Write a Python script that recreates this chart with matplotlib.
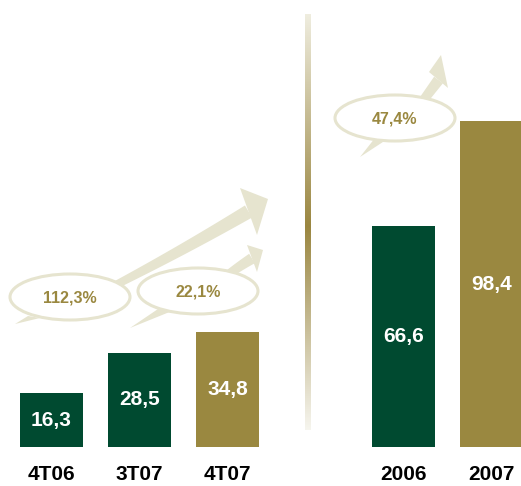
import numpy as np
import matplotlib
matplotlib.use("Agg")
import matplotlib.pyplot as plt
from matplotlib.patches import Ellipse, Polygon
from matplotlib.colors import LinearSegmentedColormap

plt.rcParams['font.family'] = ['Liberation Sans', 'DejaVu Sans']

# data
categories = ['4T06', '3T07', '4T07', '2006', '2007']
values = [16.3, 28.5, 34.8, 66.6, 98.4]
positions = [0, 1, 2, 4, 5]
growth_labels = ['112,3%', '22,1%', '47,4%']

green = '#004a30'
olive = '#9a8840'
beige = '#e6e4cf'
bar_colors = [green, green, olive, green, olive]

fig = plt.figure(figsize=(5.21, 4.86), dpi=100)

# overlay for decorations, pixel coordinates
ov = fig.add_axes([0, 0, 1, 1])
ov.set_xlim(0, 521)
ov.set_ylim(486, 0)
ov.axis('off')


def shaft(p0, p1, p2, w0, w1, n=50):
    p0, p1, p2 = np.array(p0, float), np.array(p1, float), np.array(p2, float)
    t = np.linspace(0, 1, n)[:, None]
    pts = (1 - t) ** 2 * p0 + 2 * (1 - t) * t * p1 + t ** 2 * p2
    d = 2 * (1 - t) * (p1 - p0) + 2 * t * (p2 - p1)
    nrm = np.column_stack([-d[:, 1], d[:, 0]]) / np.linalg.norm(d, axis=1)[:, None]
    w = (w0 + (w1 - w0) * t) / 2
    return np.vstack([pts + nrm * w, (pts - nrm * w)[::-1]])


# growth arrows
arrows = [
    dict(p0=(98, 294), p1=(175, 255), c1=(240, 188), tip=(268, 199), c2=(257, 235), w=(7, 14)),
    dict(p0=(205, 292), p1=(230, 272), c1=(247, 245), tip=(263, 250), c2=(257, 272), w=(6, 11)),
    dict(p0=(405, 125), p1=(422, 102), c1=(429, 72), tip=(441, 55), c2=(448, 88), w=(7, 11)),
]
for a in arrows:
    mid = ((a['c1'][0] + a['c2'][0]) / 2, (a['c1'][1] + a['c2'][1]) / 2)
    ov.add_patch(Polygon(shaft(a['p0'], a['p1'], mid, *a['w']), closed=True,
                         facecolor=beige, edgecolor='none', zorder=1))
    ov.add_patch(Polygon([a['c1'], a['tip'], a['c2']], closed=True,
                         facecolor=beige, edgecolor='none', zorder=1))

# speech bubbles
bubbles = [
    dict(c=(70, 297), tail=[(28, 316), (40, 318), (15, 324)]),
    dict(c=(198, 291), tail=[(158, 309), (172, 311), (130, 328)]),
    dict(c=(395, 118), tail=[(375, 138), (386, 140), (360, 157)]),
]
for b, lab in zip(bubbles, growth_labels):
    ov.add_patch(Polygon(b['tail'], closed=True, facecolor=beige, edgecolor='none', zorder=2))
    ov.add_patch(Ellipse(b['c'], 120, 46, facecolor='white', edgecolor=beige,
                         linewidth=2.2, zorder=3))
    ov.text(b['c'][0], b['c'][1] + 1, lab, ha='center', va='center', color=olive,
            fontsize=11.5, fontweight='bold', zorder=4)

# separator with gradient
cmap = LinearSegmentedColormap.from_list('sep', [(0, '#efeddf'), (0.51, '#9a8640'), (1, '#f6f5ee')])
grad = np.linspace(0, 1, 256)[:, None]
ov.imshow(grad, cmap=cmap, extent=[305, 311, 430, 15], aspect='auto', zorder=1)
ov.set_xlim(0, 521)
ov.set_ylim(486, 0)

# bars
ax = fig.add_axes([0, 0, 1, 1])
ax.patch.set_alpha(0)
ax.bar(positions, values, width=0.72, color=bar_colors, zorder=2)
ax.set_xlim(-0.585, 5.335)
ax.set_ylim(-11.78, 135.0)
ax.axis('off')

for x, v, cat in zip(positions, values, categories):
    ax.text(x, v / 2, f"{v:.1f}".replace('.', ','), ha='center', va='center',
            color='white', fontsize=15, fontweight='bold')
    ax.text(x, -8.4, cat, ha='center', va='center', color='black',
            fontsize=15, fontweight='bold')

fig.savefig('out.png', dpi=100)
